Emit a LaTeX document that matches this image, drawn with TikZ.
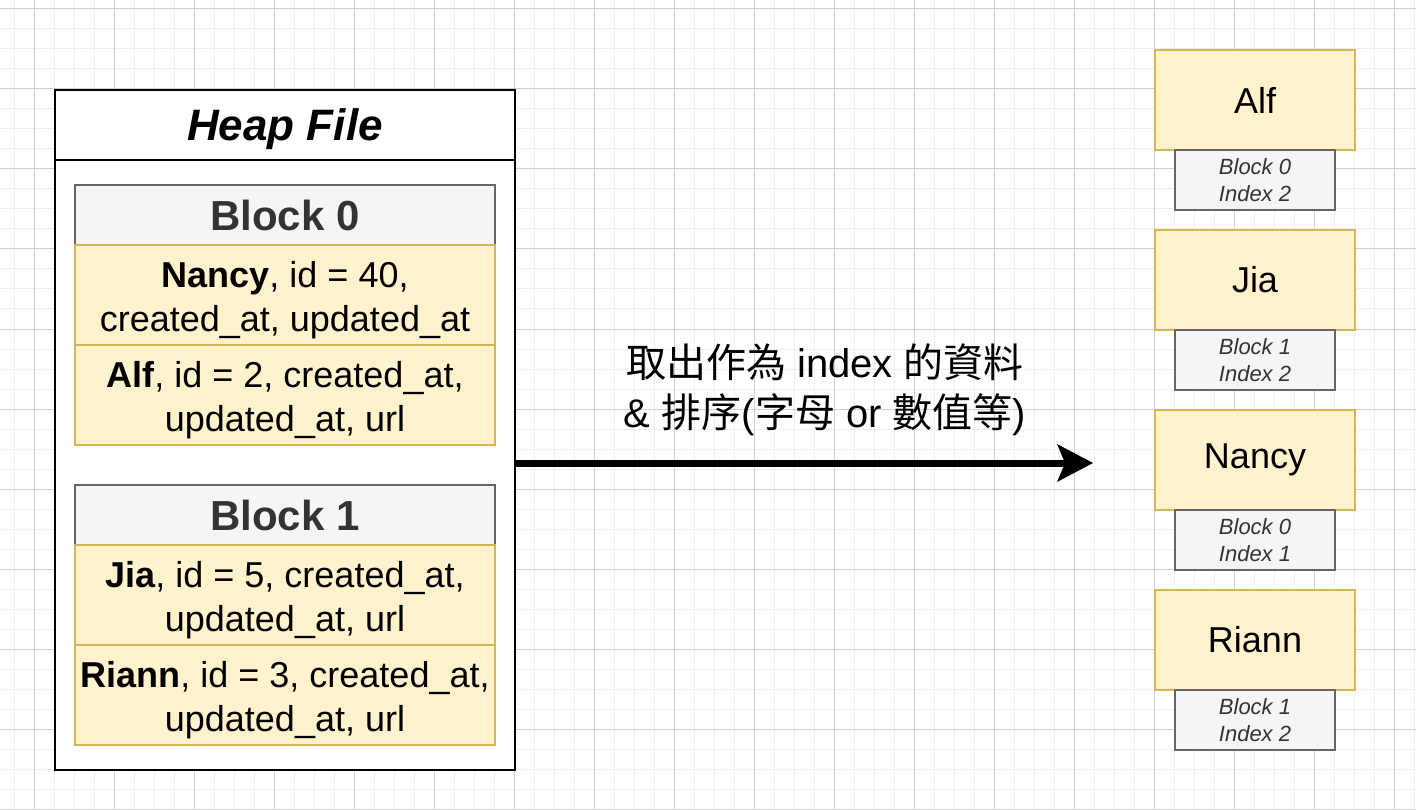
\documentclass[tikz,border=0pt]{standalone}
\usepackage{fontspec}
\setmainfont{Liberation Sans}
\newfontfamily\cjk{Noto Sans CJK TC}
\usetikzlibrary{arrows.meta}
\definecolor{yfill}{HTML}{FFF2CC}
\definecolor{ydraw}{HTML}{D6B656}
\definecolor{gfill}{HTML}{F5F5F5}
\definecolor{gdraw}{HTML}{666666}
\definecolor{gtext}{HTML}{333333}
\definecolor{gridminor}{HTML}{EEEEEE}
\definecolor{gridmajor}{HTML}{CFCFCF}
\tikzset{
  heapbox/.style={draw=black, line width=2pt, fill=white, inner sep=0pt, outer sep=0pt,
    minimum width=460pt, minimum height=680pt, anchor=north west},
  heaptitle/.style={draw=black, line width=2pt, inner sep=0pt, outer sep=0pt,
    minimum width=460pt, minimum height=70pt, anchor=north west, text depth=1pt,
    font=\fontsize{44}{52}\selectfont\bfseries\itshape},
  blockhead/.style={draw=gdraw, fill=gfill, line width=2pt, text=gtext, inner sep=0pt, outer sep=0pt,
    minimum width=420pt, minimum height=60pt, anchor=north west,
    font=\fontsize{42}{50}\selectfont\bfseries},
  rowbox/.style={draw=ydraw, fill=yfill, line width=2pt, inner sep=0pt, outer sep=0pt,
    minimum width=420pt, minimum height=100pt, anchor=north west, align=center,
    text height=72pt, text depth=0pt,
    font=\fontsize{36}{43.2}\selectfont},
  namebox/.style={draw=ydraw, fill=yfill, line width=2pt, inner sep=0pt, outer sep=0pt,
    minimum width=200pt, minimum height=100pt, font=\fontsize{36}{43.2}\selectfont},
  locbox/.style={draw=gdraw, fill=gfill, line width=2pt, inner sep=0pt, outer sep=0pt,
    minimum width=160pt, minimum height=60pt, anchor=north, align=center, text=gtext,
    font=\fontsize{22}{26.4}\selectfont\itshape},
  bigarrow/.style={line width=7pt, -{Stealth[length=36pt, width=38pt, inset=8pt, line width=0pt]}},
  lbl/.style={align=center, font=\fontsize{40}{50}\selectfont}
}
\begin{document}
\begin{tikzpicture}[x=1pt,y=-1pt]
  \useasboundingbox (0,0) rectangle (1416,810);
  \fill[white] (0,0) rectangle (1416,810);
  % grid
  \foreach \x in {14,34,...,1414} \draw[gridminor, line width=1pt] (\x,0) -- (\x,810);
  \foreach \y in {9,29,...,809} \draw[gridminor, line width=1pt] (0,\y) -- (1416,\y);
  \foreach \x in {34,114,...,1394} \draw[gridmajor, line width=1pt] (\x,0) -- (\x,810);
  \foreach \y in {9,89,...,809} \draw[gridmajor, line width=1pt] (0,\y) -- (1416,\y);

  % heap file
  \node[heapbox] (heap) at (55,90) {};
  \node[heaptitle] (title) at (55,90) {Heap File};

  \node[blockhead] (b0) at (75,185) {Block 0};
  \node[rowbox] (r01) at (b0.south west) {\textbf{Nancy}, id = 40,\\created\_at, updated\_at};
  \node[rowbox] (r02) at (r01.south west) {\textbf{Alf}, id = 2, created\_at,\\updated\_at, url};

  \node[blockhead] (b1) at (75,485) {Block 1};
  \node[rowbox] (r11) at (b1.south west) {\textbf{Jia}, id = 5, created\_at,\\updated\_at, url};
  \node[rowbox] (r12) at (r11.south west) {\textbf{Riann}, id = 3, created\_at,\\updated\_at, url};

  % index entries
  \node[namebox] (n1) at (1255,100) {Alf};
  \node[locbox] (l1) at (n1.south) {Block 0\\Index 2};
  \node[namebox] (n2) at (1255,280) {Jia};
  \node[locbox] (l2) at (n2.south) {Block 1\\Index 2};
  \node[namebox] (n3) at (1255,460) {Nancy};
  \node[locbox] (l3) at (n3.south) {Block 0\\Index 1};
  \node[namebox] (n4) at (1255,640) {Riann};
  \node[locbox] (l4) at (n4.south) {Block 1\\Index 2};

  % arrow
  \coordinate (tip) at (1093,463);
  \draw[bigarrow] (heap.east |- tip) -- (tip);
  \node[lbl] (txt) at (825,390) {{\cjk 取出作為} index {\cjk 的資料}\\\& {\cjk 排序}({\cjk 字母} or {\cjk 數值等})};
\end{tikzpicture}
\end{document}
